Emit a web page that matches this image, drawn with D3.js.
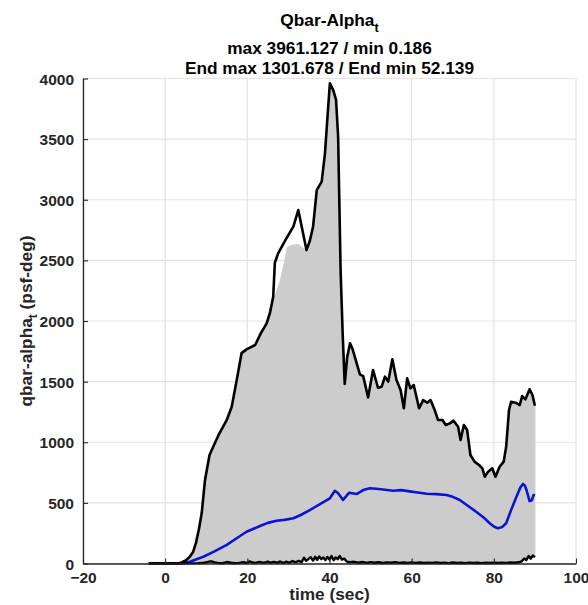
<!DOCTYPE html>
<html>
<head>
<meta charset="utf-8">
<script src="https://cdn.jsdelivr.net/npm/d3@7"></script>
<style>
  html, body { margin: 0; padding: 0; background: #fff; }
  svg { display: block; font-family: "Liberation Sans", Arial, Helvetica, sans-serif; }
</style>
</head>
<body>
<svg id="chart" width="588" height="605"></svg>
<script>
// Axis ticks
const xTicks = [-20, 0, 20, 40, 60, 80, 100];
const yTicks = [0, 500, 1000, 1500, 2000, 2500, 3000, 3500, 4000];

// Upper envelope of all runs: [time (sec), qbar-alpha (psf-deg)]
const maxLine = [
  [-4,0],[3,0],[4,8],[5,25],[6,55],[6.8,95],[7.5,170],[8.2,280],[8.9,416],[9.7,689],
  [10.8,895],[11.7,963],[13,1060],[15,1184],[16.2,1293],[17.4,1510],[18.6,1735],[19.8,1766],
  [21.9,1802],[23.3,1900],[24.7,1981],[25.5,2066],[26.3,2200],[26.7,2480],[27.5,2558],
  [29.3,2670],[31.2,2778],[32.4,2915],[33.4,2750],[34.4,2585],[35.2,2660],[36,2778],
  [36.9,3080],[38.1,3149],[38.9,3383],[39.5,3680],[40.1,3961.127],[40.9,3905],[41.6,3823],
  [42.1,3520],[42.7,2420],[43.2,1900],[43.7,1480],[44.3,1700],[45,1816],[45.6,1770],
  [46.2,1700],[47.4,1560],[48.2,1545],[49.4,1370],[50.6,1596],[51.8,1450],[52.7,1458],
  [53.5,1541],[54.3,1500],[55.3,1684],[56.3,1513],[57.3,1431],[58.1,1280],[58.9,1527],
  [59.7,1445],[60.5,1472],[61.8,1280],[62.8,1348],[63.8,1326],[64.6,1348],[65.6,1266],
  [66.4,1184],[67.5,1184],[68.3,1142],[69.3,1156],[70.2,1178],[71.3,1128],[71.9,1019],
  [72.7,1142],[73.5,1101],[74.3,895],[75.3,840],[76.4,812],[77.2,785],[77.8,716],
  [78.6,757],[79.6,785],[80.4,716],[81.4,798],[82.4,840],[83,963],[83.7,1266],[84.2,1334],
  [85.3,1326],[86.3,1307],[86.9,1381],[87.7,1354],[88.7,1437],[89.4,1390],[90,1301.678]
];

// Top of the bundle of run traces where it sits below the envelope
const runsCeiling = [
  [26.3,2173],[27,2230],[28,2330],[29,2480],[29.8,2610],[31,2625],[32.5,2630],
  [33.6,2600],[34.4,2585]
];

// Mean of all runs
const meanLine = [
  [-4,0],[3,0],[4.4,2],[6,15],[9.3,56],[12,100],[15,153],[17.5,210],[19.8,262],[23.1,309],
  [25,335],[27.1,353],[29,360],[31.2,373],[33,400],[35.2,441],[38,495],[40.1,538],[41.3,600],
  [42.1,579],[43.3,524],[44.8,584],[46.6,573],[48.2,606],[49.8,620],[52,615],[55.5,600],
  [57.5,605],[59.5,595],[61.5,585],[63.6,575],[66,572],[68.5,565],[70,550],[71.7,524],
  [73.5,480],[75.7,427],[77.5,380],[79,332],[80,305],[81,290],[82,300],[83,332],[84.2,440],
  [85.5,551],[86.5,630],[87.1,656],[87.6,640],[88,600],[88.7,515],[89.2,520],[89.7,565],[90,560]
];

// Lower envelope of all runs
const minLine = [
  [-4,0],[3,0.186],[5,1],[8,3],[9.5,6],[10.5,14],[11.3,18],[12,9],[13,3],[14,2],[15,12],
  [16,6],[17,2],[18,5],[19,10],[20,4],[20.6,18],[21.2,8],[22,5],[23,13],[24,5],[25,16],
  [25.6,6],[26.5,14],[27.3,5],[28,17],[28.7,4],[29.5,15],[30.2,6],[31,20],[31.8,9],[32.5,22],
  [33.2,12],[33.8,48],[34.3,22],[34.9,38],[35.4,52],[36,24],[36.5,56],[37,30],[37.5,58],
  [38,36],[38.5,50],[39,28],[39.5,54],[40,32],[40.5,62],[41,26],[41.5,50],[42,36],[42.5,62],
  [43,32],[43.6,40],[44.2,16],[45,10],[46,14],[47,7],[48,12],[49,5],[50,11],[51,6],[52,10],
  [53,4],[54,9],[55,6],[56,11],[57,5],[58,8],[59,4],[60,9],[61,5],[62,8],[63,4],[64,7],
  [65,5],[66,9],[67,4],[68,7],[69,3],[70,8],[71,4],[72,6],[73,3],[74,7],[75,4],[76,6],
  [77,3],[78,6],[79,4],[80,7],[81,4],[82,6],[83,5],[84,8],[85,6],[86,10],[86.8,18],
  [87.4,42],[87.9,28],[88.5,62],[89,40],[89.5,66],[90,52.139]
];

const svg = d3.select("#chart");
const x = d3.scaleLinear().domain([-20, 100]).range([83, 576]);
const y = d3.scaleLinear().domain([0, 4000]).range([563.5, 78.5]);

const gridColor = "#e3e3e3";
const axisColor = "#262626";

// Grid
svg.append("g").selectAll("line").data(xTicks).join("line")
  .attr("x1", d => x(d)).attr("x2", d => x(d))
  .attr("y1", y(0)).attr("y2", y(4000))
  .attr("stroke", gridColor).attr("stroke-width", 1.2);
svg.append("g").selectAll("line").data(yTicks).join("line")
  .attr("x1", x(-20)).attr("x2", x(100))
  .attr("y1", d => y(d)).attr("y2", d => y(d))
  .attr("stroke", gridColor).attr("stroke-width", 1.2);

// Spread of runs: gray band from the lower envelope up to the run bundle top
const cStart = runsCeiling[0][0], cEnd = runsCeiling[runsCeiling.length - 1][0];
const runsTop = maxLine.filter(d => d[0] < cStart)
  .concat(runsCeiling)
  .concat(maxLine.filter(d => d[0] > cEnd));
const band = runsTop.concat(minLine.slice().reverse());
const poly = d3.line().x(d => x(d[0])).y(d => y(d[1]));
svg.append("path")
  .attr("d", poly(band) + "Z")
  .attr("fill", "#cccccc")
  .attr("stroke", "#cccccc").attr("stroke-width", 1);

const curve = d3.line().x(d => x(d[0])).y(d => y(d[1]));

svg.append("path").attr("d", curve(meanLine))
  .attr("fill", "none").attr("stroke", "#0a14d2").attr("stroke-width", 2.6)
  .attr("stroke-linejoin", "round");
svg.append("path").attr("d", curve(minLine))
  .attr("fill", "none").attr("stroke", "#000").attr("stroke-width", 2.4)
  .attr("stroke-linejoin", "round");
svg.append("path").attr("d", curve(maxLine))
  .attr("fill", "none").attr("stroke", "#000").attr("stroke-width", 2.6)
  .attr("stroke-linejoin", "round");

// Axes (ticks point inward)
const xAxis = d3.axisBottom(x).tickValues(xTicks).tickSizeInner(-5).tickSizeOuter(0)
  .tickPadding(8).tickFormat(d3.format("d"));
const yAxis = d3.axisLeft(y).tickValues(yTicks).tickSizeInner(-5).tickSizeOuter(0)
  .tickPadding(9).tickFormat(d3.format("d"));

const gx = svg.append("g").attr("transform", `translate(0,${y(0)})`).call(xAxis);
const gy = svg.append("g").attr("transform", `translate(${x(-20)},0)`).call(yAxis);
[gx, gy].forEach(g => {
  g.select(".domain").attr("stroke", axisColor).attr("stroke-width", 1.3);
  g.selectAll(".tick line").attr("stroke", axisColor).attr("stroke-width", 1.1);
  g.selectAll(".tick text")
    .attr("fill", "#262626")
    .style("font-family", "'Liberation Sans', Arial, sans-serif")
    .style("font-size", "15.5px").style("font-weight", "bold");
});
gy.selectAll(".tick text").attr("dy", "0.36em");

// Axis labels
svg.append("text")
  .attr("x", (x(-20) + x(100)) / 2).attr("y", 600)
  .attr("text-anchor", "middle")
  .style("font-size", "17.3px").style("font-weight", "bold").attr("fill", "#262626")
  .text("time (sec)");

const yl = svg.append("text")
  .attr("transform", `translate(31.5,${(y(0) + y(4000)) / 2}) rotate(-90)`)
  .attr("text-anchor", "middle")
  .style("font-size", "17.3px").style("font-weight", "bold").attr("fill", "#262626");
yl.append("tspan").text("qbar-alpha");
yl.append("tspan").attr("dy", 5).style("font-size", "12px").text("t");
yl.append("tspan").attr("dy", -5).text(" (psf-deg)");

// Title
const cx = (x(-20) + x(100)) / 2;
const t1 = svg.append("text").attr("x", cx).attr("y", 26).attr("text-anchor", "middle")
  .style("font-size", "17.3px").style("font-weight", "bold").attr("fill", "#000");
t1.append("tspan").text("Qbar-Alpha");
t1.append("tspan").attr("dy", 6).style("font-size", "12.5px").text("t");
svg.append("text").attr("x", cx).attr("y", 54).attr("text-anchor", "middle")
  .style("font-size", "17.3px").style("font-weight", "bold").attr("fill", "#000")
  .text("max 3961.127 / min 0.186");
svg.append("text").attr("x", cx).attr("y", 74).attr("text-anchor", "middle")
  .style("font-size", "17.3px").style("font-weight", "bold").attr("fill", "#000")
  .text("End max 1301.678 / End min 52.139");
</script>
</body>
</html>
